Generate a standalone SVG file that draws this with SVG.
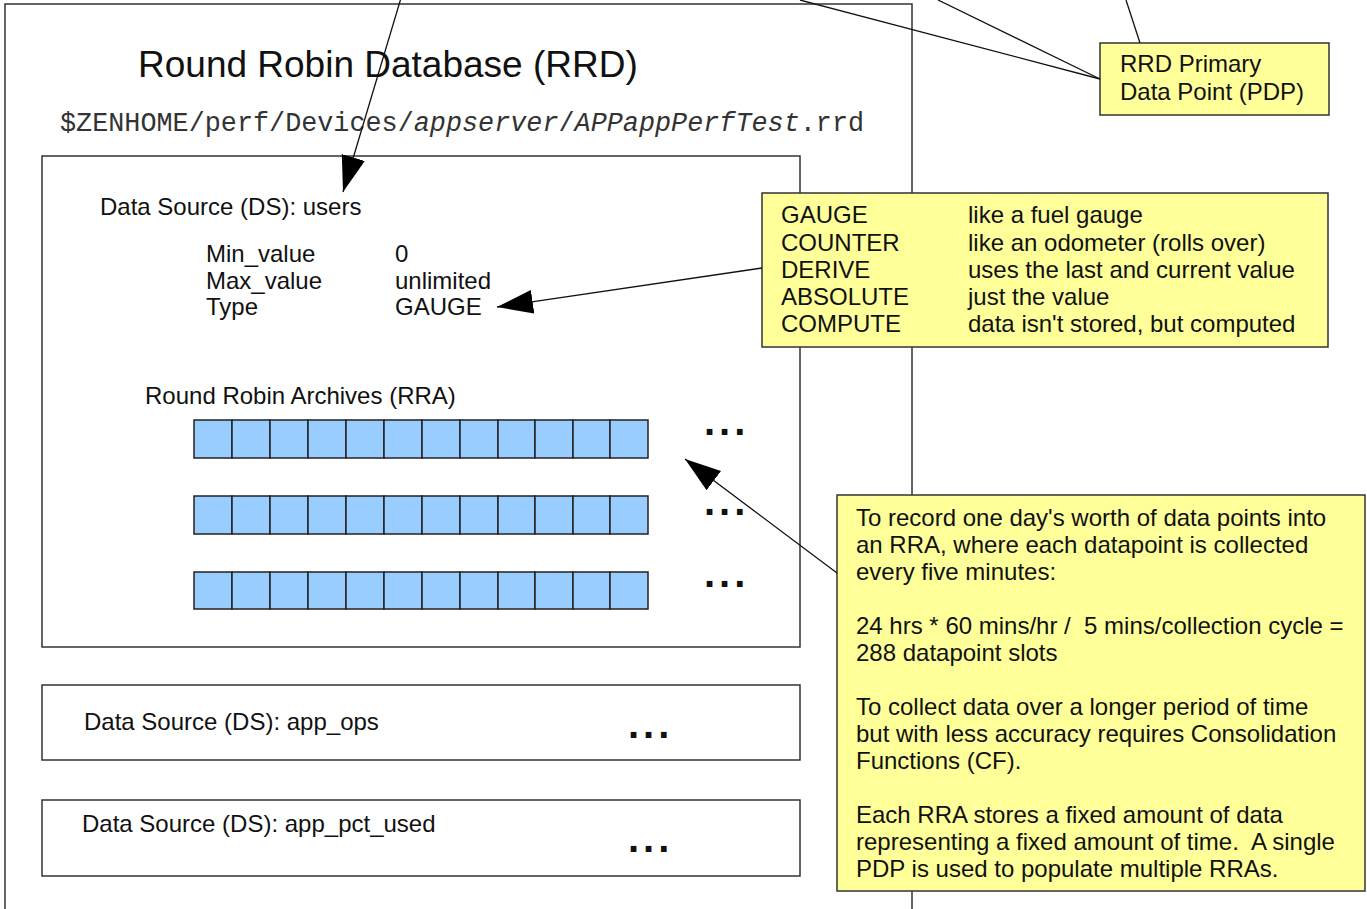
<svg xmlns="http://www.w3.org/2000/svg" width="1367" height="909" viewBox="0 0 1367 909">
<style>
text{font-family:"Liberation Sans",Arial,sans-serif;fill:#111}
.t24{font-size:24px}
.title{font-size:37px}
.mono{font-family:"Liberation Mono","Courier New",monospace;font-size:26.8px;fill:#333}
.box{fill:#fff;stroke:#333;stroke-width:1.5}
.note{fill:#ffff99;stroke:#333;stroke-width:1.5}
.cell{fill:#99ccff;stroke:#222;stroke-width:1.5}
.dots{font-size:40px;font-weight:bold;letter-spacing:4px}
.conn{fill:none;stroke:#111;stroke-width:1.3}
</style>
<defs>
<marker id="ah" markerUnits="userSpaceOnUse" markerWidth="38" markerHeight="26" viewBox="0 0 38 26" refX="36" refY="13" orient="auto">
<path d="M0,1 L36,13 L0,25 Z" fill="#000"/>
</marker>
</defs>
<rect width="1367" height="909" fill="#fff"/>

<g id="rrd">
<rect class="box" x="5" y="4" width="907" height="920"/>
<text class="title" x="138" y="77">Round Robin Database (RRD)</text>
<text class="mono" x="60" y="131">$ZENHOME/perf/Devices/<tspan font-style="italic">appserver</tspan>/<tspan font-style="italic">APPappPerfTest</tspan>.rrd</text>
</g>

<g id="ds-users">
<rect class="box" x="42" y="156" width="758" height="491"/>
<text class="t24" x="100" y="215">Data Source (DS): users</text>
<text class="t24" x="206" y="262">Min_value</text>
<text class="t24" x="206" y="289">Max_value</text>
<text class="t24" x="206" y="315">Type</text>
<text class="t24" x="395" y="262">0</text>
<text class="t24" x="395" y="289">unlimited</text>
<text class="t24" x="395" y="315">GAUGE</text>
<text class="t24" x="145" y="404">Round Robin Archives (RRA)</text>
</g>

<g id="rra-1">
<rect class="cell" x="194" y="420" width="38" height="38"/><rect class="cell" x="232" y="420" width="38" height="38"/><rect class="cell" x="270" y="420" width="38" height="38"/><rect class="cell" x="308" y="420" width="38" height="38"/><rect class="cell" x="346" y="420" width="38" height="38"/><rect class="cell" x="384" y="420" width="38" height="38"/><rect class="cell" x="422" y="420" width="38" height="38"/><rect class="cell" x="460" y="420" width="38" height="38"/><rect class="cell" x="498" y="420" width="37" height="38"/><rect class="cell" x="535" y="420" width="38" height="38"/><rect class="cell" x="573" y="420" width="37" height="38"/><rect class="cell" x="610" y="420" width="38" height="38"/>
<text class="dots" x="704" y="435">...</text>
</g>
<g id="rra-2">
<rect class="cell" x="194" y="496" width="38" height="38"/><rect class="cell" x="232" y="496" width="38" height="38"/><rect class="cell" x="270" y="496" width="38" height="38"/><rect class="cell" x="308" y="496" width="38" height="38"/><rect class="cell" x="346" y="496" width="38" height="38"/><rect class="cell" x="384" y="496" width="38" height="38"/><rect class="cell" x="422" y="496" width="38" height="38"/><rect class="cell" x="460" y="496" width="38" height="38"/><rect class="cell" x="498" y="496" width="37" height="38"/><rect class="cell" x="535" y="496" width="38" height="38"/><rect class="cell" x="573" y="496" width="37" height="38"/><rect class="cell" x="610" y="496" width="38" height="38"/>
<text class="dots" x="704" y="515">...</text>
</g>
<g id="rra-3">
<rect class="cell" x="194" y="572" width="38" height="37"/><rect class="cell" x="232" y="572" width="38" height="37"/><rect class="cell" x="270" y="572" width="38" height="37"/><rect class="cell" x="308" y="572" width="38" height="37"/><rect class="cell" x="346" y="572" width="38" height="37"/><rect class="cell" x="384" y="572" width="38" height="37"/><rect class="cell" x="422" y="572" width="38" height="37"/><rect class="cell" x="460" y="572" width="38" height="37"/><rect class="cell" x="498" y="572" width="37" height="37"/><rect class="cell" x="535" y="572" width="38" height="37"/><rect class="cell" x="573" y="572" width="37" height="37"/><rect class="cell" x="610" y="572" width="38" height="37"/>
<text class="dots" x="704" y="587">...</text>
</g>

<g id="ds-app-ops">
<rect class="box" x="42" y="685" width="758" height="75"/>
<text class="t24" x="84" y="730">Data Source (DS): app_ops</text>
<text class="dots" x="628" y="738">...</text>
</g>

<g id="ds-app-pct-used">
<rect class="box" x="42" y="800" width="758" height="76"/>
<text class="t24" x="82" y="832">Data Source (DS): app_pct_used</text>
<text class="dots" x="628" y="852">...</text>
</g>

<g id="pdp-note">
<rect class="note" x="1100" y="43" width="229" height="72"/>
<text class="t24" x="1120" y="72">RRD Primary</text>
<text class="t24" x="1120" y="100">Data Point (PDP)</text>
</g>

<g id="type-note">
<rect class="note" x="762" y="193" width="566" height="154"/>
<text class="t24" x="781" y="223">GAUGE</text>
<text class="t24" x="781" y="251">COUNTER</text>
<text class="t24" x="781" y="278">DERIVE</text>
<text class="t24" x="781" y="305">ABSOLUTE</text>
<text class="t24" x="781" y="332">COMPUTE</text>
<text class="t24" x="968" y="223">like a fuel gauge</text>
<text class="t24" x="968" y="251">like an odometer (rolls over)</text>
<text class="t24" x="968" y="278">uses the last and current value</text>
<text class="t24" x="968" y="305">just the value</text>
<text class="t24" x="968" y="332">data isn't stored, but computed</text>
</g>

<g id="rra-note">
<rect class="note" x="837" y="495" width="528" height="396"/>
<text class="t24" x="856" y="526">To record one day's worth of data points into</text>
<text class="t24" x="856" y="553">an RRA, where each datapoint is collected</text>
<text class="t24" x="856" y="580">every five minutes:</text>
<text class="t24" x="856" y="634" xml:space="preserve">24 hrs * 60 mins/hr /  5 mins/collection cycle =</text>
<text class="t24" x="856" y="661">288 datapoint slots</text>
<text class="t24" x="856" y="715">To collect data over a longer period of time</text>
<text class="t24" x="856" y="742">but with less accuracy requires Consolidation</text>
<text class="t24" x="856" y="769">Functions (CF).</text>
<text class="t24" x="856" y="823">Each RRA stores a fixed amount of data</text>
<text class="t24" x="856" y="850" xml:space="preserve">representing a fixed amount of time.  A single</text>
<text class="t24" x="856" y="877">PDP is used to populate multiple RRAs.</text>
</g>

<g id="connectors">
<line class="conn" x1="401" y1="-2" x2="343" y2="192" marker-end="url(#ah)"/>
<line class="conn" x1="800" y1="0" x2="1100" y2="79"/>
<line class="conn" x1="938" y1="0" x2="1100" y2="79"/>
<line class="conn" x1="1126" y1="0" x2="1140" y2="43"/>
<line class="conn" x1="762" y1="268" x2="497" y2="307" marker-end="url(#ah)"/>
<line class="conn" x1="837" y1="573" x2="685" y2="459" marker-end="url(#ah)"/>
</g>
</svg>
